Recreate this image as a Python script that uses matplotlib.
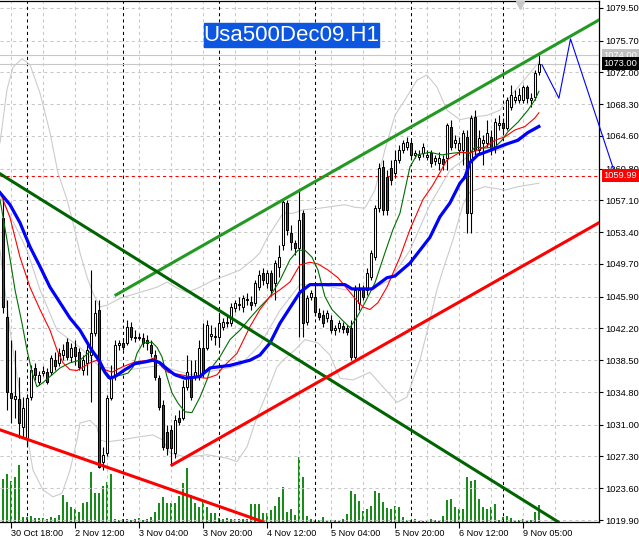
import matplotlib
matplotlib.use("Agg")
import matplotlib.pyplot as plt
from matplotlib import transforms
from matplotlib.patches import Rectangle

plt.rcParams['font.family'] = ['Liberation Sans', 'DejaVu Sans']

# ---- candle data (H1 bars, oldest first) ----
opens = [1055.1, 1043.5, 1034.7, 1034.0, 1034.0, 1030.7, 1029.4, 1034.2, 1037.6, 1036.0,
         1037.0, 1037.1, 1037.1, 1038.5, 1038.2, 1039.1, 1040.6, 1038.9, 1040.0, 1039.5,
         1037.4, 1038.2, 1039.1, 1041.7, 1044.3, 1026.6, 1027.7, 1034.1, 1036.8, 1040.3,
         1040.5, 1040.5, 1042.4, 1041.2, 1041.2, 1041.1, 1040.9, 1040.3, 1039.1, 1036.4,
         1033.3, 1030.2, 1030.4, 1027.7, 1031.8, 1031.8, 1035.4, 1036.4, 1036.5, 1036.5,
         1039.9, 1039.9, 1041.3, 1041.2, 1041.2, 1042.4, 1042.8, 1042.8, 1044.6, 1044.9,
         1044.7, 1045.5, 1045.3, 1045.2, 1047.0, 1048.6, 1047.5, 1048.6, 1047.5, 1049.4,
         1051.9, 1056.8, 1053.3, 1052.1, 1051.6, 1055.6, 1042.9, 1045.9, 1045.9, 1044.0,
         1043.8, 1043.4, 1043.2, 1042.0, 1042.2, 1042.5, 1042.2, 1042.2, 1038.9, 1045.2,
         1046.7, 1046.7, 1048.2, 1050.5, 1056.2, 1061.0, 1059.8, 1060.9, 1060.3, 1061.8,
         1063.0, 1063.3, 1063.8, 1062.4, 1062.2, 1062.6, 1062.2, 1062.6, 1061.7, 1061.5,
         1061.9, 1062.0, 1065.6, 1063.8, 1063.0, 1063.0, 1064.5, 1055.6, 1066.8, 1063.0,
         1063.8, 1063.8, 1064.5, 1063.3, 1065.9, 1066.1, 1065.5, 1068.0, 1068.8, 1068.8,
         1068.8, 1070.3, 1068.8, 1069.1, 1072.0]
closes = [1044.7, 1034.8, 1034.1, 1034.3, 1031.2, 1032.9, 1034.1, 1037.4, 1036.8, 1036.8,
          1037.2, 1036.0, 1038.8, 1037.8, 1039.3, 1039.7, 1038.9, 1039.9, 1039.0, 1037.7,
          1038.5, 1039.7, 1041.7, 1044.0, 1026.1, 1027.5, 1034.1, 1036.4, 1040.3, 1040.5,
          1040.0, 1042.4, 1041.2, 1041.1, 1041.1, 1040.5, 1040.5, 1039.3, 1036.5, 1033.1,
          1028.4, 1028.3, 1028.3, 1031.5, 1031.3, 1035.4, 1037.1, 1034.2, 1037.1, 1039.9,
          1037.0, 1042.6, 1041.5, 1041.3, 1042.8, 1042.9, 1042.9, 1044.7, 1045.2, 1045.0,
          1045.7, 1045.6, 1044.9, 1047.5, 1048.4, 1047.8, 1048.6, 1046.7, 1049.8, 1050.5,
          1056.9, 1053.7, 1052.3, 1051.6, 1054.8, 1042.8, 1045.7, 1046.3, 1044.1, 1043.5,
          1042.8, 1044.0, 1042.0, 1042.2, 1042.8, 1042.1, 1041.8, 1038.9, 1046.7, 1046.7,
          1045.9, 1048.6, 1051.0, 1056.2, 1060.9, 1056.0, 1056.0, 1059.5, 1061.8, 1063.0,
          1063.8, 1063.9, 1062.4, 1062.6, 1062.4, 1063.3, 1062.4, 1061.5, 1062.0, 1062.0,
          1061.3, 1065.9, 1063.3, 1064.1, 1063.8, 1064.9, 1055.6, 1066.7, 1063.0, 1064.4,
          1064.1, 1064.9, 1063.2, 1066.2, 1066.1, 1065.5, 1068.8, 1069.4, 1069.1, 1069.4,
          1070.3, 1069.0, 1069.0, 1071.9, 1073.0]
highs = [1057.7, 1045.5, 1040.9, 1039.7, 1036.5, 1034.2, 1034.5, 1037.9, 1038.2, 1037.2,
         1037.8, 1037.6, 1039.1, 1039.4, 1039.9, 1040.4, 1041.1, 1040.5, 1040.9, 1039.9,
         1039.1, 1040.3, 1049.0, 1045.5, 1045.5, 1028.4, 1034.5, 1037.9, 1040.9, 1040.9,
         1041.1, 1043.2, 1043.0, 1042.0, 1041.7, 1041.7, 1041.4, 1040.9, 1039.7, 1036.8,
         1033.9, 1031.0, 1031.0, 1032.1, 1032.7, 1036.2, 1039.1, 1038.5, 1038.5, 1040.9,
         1042.8, 1043.2, 1042.6, 1042.4, 1044.0, 1043.4, 1043.8, 1045.2, 1045.5, 1045.8,
         1046.1, 1046.3, 1046.0, 1047.8, 1049.0, 1049.2, 1049.0, 1049.0, 1050.2, 1051.9,
         1057.1, 1057.1, 1054.2, 1052.5, 1058.3, 1056.0, 1046.1, 1046.7, 1047.3, 1044.6,
         1044.3, 1044.3, 1043.8, 1042.6, 1043.2, 1042.9, 1042.6, 1043.2, 1047.3, 1047.5,
         1047.3, 1049.2, 1051.3, 1056.6, 1061.5, 1061.8, 1060.6, 1061.8, 1063.0, 1063.6,
         1064.1, 1064.5, 1064.1, 1063.0, 1063.0, 1063.8, 1063.0, 1063.0, 1062.4, 1062.7,
         1062.4, 1066.1, 1066.5, 1064.7, 1064.5, 1065.3, 1065.3, 1067.0, 1067.6, 1065.3,
         1064.7, 1066.5, 1065.3, 1066.7, 1067.0, 1066.7, 1069.1, 1070.5, 1070.0, 1070.2,
         1070.5, 1070.5, 1069.6, 1072.3, 1074.0]
lows = [1044.0, 1032.7, 1031.2, 1031.8, 1029.4, 1029.4, 1028.6, 1033.9, 1036.2, 1035.6,
        1036.7, 1035.7, 1036.8, 1037.4, 1037.8, 1038.5, 1038.5, 1038.3, 1037.9, 1037.4,
        1036.8, 1036.8, 1033.6, 1041.3, 1025.9, 1025.7, 1027.3, 1033.9, 1036.2, 1039.7,
        1039.7, 1040.3, 1040.9, 1040.6, 1040.9, 1040.0, 1039.7, 1038.9, 1036.2, 1032.7,
        1028.0, 1027.5, 1026.3, 1027.1, 1031.0, 1031.5, 1035.0, 1033.9, 1036.2, 1036.2,
        1036.5, 1039.7, 1040.9, 1040.3, 1040.0, 1042.0, 1042.4, 1042.5, 1044.1, 1044.3,
        1044.1, 1044.9, 1044.3, 1044.8, 1046.7, 1047.3, 1046.9, 1046.0, 1045.5, 1048.2,
        1051.3, 1053.1, 1051.3, 1050.7, 1041.2, 1041.2, 1042.6, 1045.5, 1043.7, 1043.2,
        1042.4, 1042.9, 1041.7, 1041.4, 1041.8, 1041.7, 1041.4, 1038.5, 1038.5, 1044.3,
        1045.5, 1046.1, 1047.8, 1050.2, 1055.7, 1055.4, 1055.4, 1058.9, 1059.7, 1061.5,
        1062.6, 1063.0, 1061.8, 1062.0, 1061.8, 1062.2, 1061.8, 1061.0, 1061.2, 1060.6,
        1060.6, 1060.6, 1063.0, 1063.2, 1062.4, 1061.2, 1053.3, 1053.3, 1062.4, 1062.6,
        1061.2, 1063.3, 1062.4, 1062.6, 1065.3, 1064.7, 1065.3, 1067.6, 1068.4, 1068.4,
        1068.4, 1068.4, 1068.0, 1068.8, 1071.7]
volumes = [43, 48, 41, 45, 57, 5, 5, 6, 4, 4, 4, 3, 5, 4, 7, 27, 20, 15, 13, 10,
           19, 20, 50, 29, 29, 36, 40, 48, 3, 2, 3, 3, 2, 3, 4, 2, 3, 5, 10, 19,
           25, 19, 19, 19, 26, 39, 54, 27, 19, 15, 22, 15, 9, 9, 4, 3, 4, 3, 3, 3,
           3, 3, 18, 18, 18, 9, 9, 12, 16, 25, 35, 10, 13, 7, 65, 45, 6, 3, 1, 2,
           5, 2, 2, 2, 2, 3, 8, 31, 28, 21, 11, 13, 16, 31, 29, 20, 14, 13, 16, 15,
           5, 2, 2, 3, 1, 1, 1, 3, 2, 1, 6, 22, 23, 15, 13, 13, 45, 41, 42, 23,
           15, 13, 15, 18, 2, 5, 6, 4, 2, 2, 3, 2, 2, 10, 17]

# ---- indicator lines (bar position, price) ----
ma_fast_x = [-0.75, 1, 3, 4.75, 6, 7.25, 8.5, 10, 11.75, 14.25, 16.75, 19.25, 21.75, 23.5, 24.75,
             26.25, 28, 29.75, 31.25, 32.5, 33.5, 35, 37.25, 38.5, 39.75, 41, 42.25, 43.75, 45.5,
             47.25, 49.25, 51, 51.75, 54.25, 56.75, 59.25, 61.75, 64.25, 66.75, 69.25, 71.75,
             73.75, 75.5, 77.25, 78.75, 80.5, 82.25, 84.75, 86.75, 88.5, 90.5, 93, 95.5, 97.5,
             99.25, 101.75, 103.5, 106.75, 109.75, 112.5, 114.75, 116.75, 118, 120.5, 123,
             124.75, 126.25, 128.75, 131.25, 133, 134]
ma_fast_y = [1057.2, 1052.5, 1046.7, 1042.8, 1039.7, 1037.1, 1035.4, 1035.9, 1036.6, 1037.6,
             1038.2, 1038.5, 1039.5, 1039.1, 1037.4, 1036.4, 1036.6, 1036.8, 1037.0, 1037.7,
             1039.3, 1040.5, 1040.6, 1040.0, 1038.9, 1036.6, 1034.7, 1033.5, 1032.5, 1032.4,
             1034.2, 1036.2, 1037.4, 1038.9, 1040.9, 1042.0, 1043.4, 1044.7, 1045.9, 1047.8,
             1050.2, 1051.3, 1051.3, 1050.5, 1049.0, 1045.9, 1044.4, 1043.2, 1042.3, 1043.5,
             1045.2, 1047.5, 1051.0, 1053.7, 1055.6, 1061.0, 1062.4, 1062.7, 1062.4, 1062.6,
             1062.7, 1062.6, 1063.3, 1063.2, 1063.3, 1064.1, 1065.1, 1066.2, 1067.6, 1068.8,
             1069.8]
ma_mid_x = [-0.75, 1.75, 4.25, 6.75, 9.25, 11.75, 13.5, 15, 16.75, 18.5, 20, 21.75, 23.5, 25.5,
            27.25, 29.75, 33, 36.25, 38, 39.75, 41.25, 43.5, 46.75, 51, 53.5, 55, 58.5, 61.75,
            64.25, 66.75, 69.25, 71.75, 74.25, 76.75, 78.75, 81.25, 83.75, 86.25, 88, 90, 91.75,
            93.75, 96, 99.25, 101.75, 105, 107.5, 111, 114.25, 116.75, 120.5, 123, 125.5, 128,
            130.5, 133, 134]
ma_mid_y = [1058.1, 1055.1, 1050.5, 1047.0, 1044.4, 1042.0, 1039.7, 1038.2, 1037.4, 1037.3,
            1037.7, 1038.2, 1038.5, 1037.4, 1037.1, 1037.7, 1038.3, 1038.5, 1038.8, 1037.7,
            1037.1, 1036.9, 1036.6, 1036.4, 1036.8, 1037.7, 1039.3, 1042.4, 1044.4, 1045.9,
            1046.7, 1047.6, 1049.6, 1049.9, 1049.7, 1049.0, 1048.1, 1046.7, 1045.7, 1044.7,
            1044.4, 1045.2, 1047.0, 1050.5, 1053.7, 1057.2, 1058.9, 1061.8, 1062.7, 1062.6,
            1063.3, 1064.1, 1064.5, 1065.3, 1065.7, 1066.7, 1067.3]
ma_slow_x = [-0.75, 1.75, 4.25, 6.75, 9.25, 11.75, 14.25, 16.75, 19.25, 21.75, 24.25, 25.5, 26.75,
             28, 30.5, 33, 35.5, 37.5, 39.25, 41.25, 43, 45.5, 49.25, 51.75, 56.75, 61.75, 64.25,
             66.75, 69.25, 71.75, 74.25, 76.75, 85.5, 87.25, 92.25, 96, 98, 101.75, 104.25,
             106.75, 109.25, 111.75, 114.25, 115.5, 116.75, 118.75, 122.25, 125.5, 128.75,
             131.25, 134]
ma_slow_y = [1058.0, 1056.6, 1054.5, 1051.7, 1049.4, 1047.0, 1045.2, 1043.4, 1042.0, 1040.0,
             1038.3, 1037.1, 1036.4, 1036.6, 1037.4, 1038.1, 1038.3, 1038.5, 1038.2, 1037.4,
             1036.8, 1036.4, 1036.6, 1037.6, 1037.9, 1038.5, 1039.1, 1040.5, 1042.8, 1044.6,
             1046.4, 1047.3, 1047.3, 1046.8, 1046.8, 1048.1, 1048.3, 1049.8, 1051.3, 1052.8,
             1055.2, 1056.8, 1059.1, 1059.8, 1061.5, 1062.4, 1063.0, 1063.6, 1064.1, 1065.0,
             1065.7]
band_up_x = [-0.75, 1, 2.5, 4.75, 6.75, 9.25, 11.75, 13.75, 16, 17.5, 19.25, 21, 22.5, 24.25, 26,
             29.25, 34.25, 38.5, 41, 43.5, 46, 49.25, 52.5, 56, 59.25, 62.5, 64.25, 66, 68.5, 70,
             72.5, 75, 79.25, 85.5, 88, 90.5, 93, 95.5, 98, 100.5, 103.5, 106, 108.5, 111,
             114.25, 117.5, 121, 124.25, 127.5, 131, 134]
band_up_y = [1063.8, 1070.0, 1072.6, 1073.6, 1072.9, 1069.6, 1065.0, 1060.3, 1057.2, 1054.5,
             1051.0, 1048.2, 1046.3, 1044.7, 1044.9, 1045.7, 1046.4, 1047.0, 1047.6, 1046.9,
             1046.4, 1047.0, 1047.8, 1048.4, 1049.0, 1050.2, 1051.0, 1052.7, 1054.5, 1055.6,
             1055.6, 1056.0, 1056.2, 1056.6, 1056.3, 1056.2, 1058.3, 1063.0, 1067.0, 1068.8,
             1071.1, 1071.7, 1070.3, 1067.6, 1066.5, 1066.8, 1067.0, 1067.6, 1069.6, 1071.5,
             1073.2]
band_mid_x = [-0.75, 3, 6, 9.25, 13.5, 19.25, 24.25, 31.75, 39.25, 46.75, 54.25, 59.25, 64.25,
              69.25, 74.25, 79.25, 85.5, 91.75, 96.75, 101.75, 106.75, 111.75, 116.75, 124.25, 134]
band_mid_y = [1057.6, 1054.2, 1051.3, 1046.7, 1042.0, 1040.0, 1037.7, 1037.4, 1037.9, 1036.8,
              1037.4, 1037.9, 1040.3, 1044.3, 1047.3, 1047.3, 1046.7, 1046.7, 1047.8, 1051.3,
              1056.6, 1060.6, 1062.4, 1063.0, 1065.9]
band_lo_x = [-0.75, 1.75, 4.25, 6, 7.5, 10, 12.5, 14.75, 16.75, 18.5, 19.25, 21.75, 23.5, 24.25,
             26, 29.25, 34.25, 37.5, 40, 41.75, 46, 51, 56, 58.5, 61, 63.5, 66, 68.5, 70, 73, 75.5,
             78.75, 81.75, 84.25, 87.5, 91.75, 95, 98.5, 101, 102.5, 104.25, 106.75, 108.5, 110,
             112.5, 115, 116.75, 120.5, 125.5, 128.75, 134]
band_lo_y = [1051.3, 1042.0, 1034.5, 1029.8, 1025.7, 1023.4, 1022.6, 1023.0, 1025.7, 1029.2,
             1031.2, 1031.5, 1030.7, 1029.2, 1029.0, 1029.2, 1029.6, 1029.8, 1029.2, 1027.7,
             1027.2, 1027.5, 1027.1, 1026.7, 1028.4, 1031.9, 1034.7, 1037.7, 1038.5, 1039.7,
             1040.9, 1040.5, 1039.1, 1036.4, 1036.2, 1037.1, 1035.4, 1033.6, 1034.2, 1036.2,
             1038.5, 1043.2, 1046.7, 1049.0, 1052.5, 1056.6, 1058.1, 1058.7, 1058.3, 1058.7,
             1059.1]

# ---- trend lines / objects (bar position, price) ----
channel_up = ([28.25, 149.0], [1046.1, 1078.1])
line_down_green = ([-0.75, 138.75], [1060.2, 1019.7])
line_down_red = ([-0.75, 65.0], [1030.4, 1019.7])
line_up_red = ([42.25, 149.0], [1026.3, 1054.5])
forecast = ([134.75, 139.0, 141.9, 152.75], [1072.9, 1069.0, 1075.9, 1060.6])

price_ticks = [1079.50, 1075.70, 1072.00, 1068.30, 1064.60, 1060.80, 1057.10, 1053.40, 1049.70,
               1045.90, 1042.20, 1038.50, 1034.80, 1031.00, 1027.30, 1023.60, 1019.90]
time_pos = [2, 18, 34, 50, 66, 82, 98, 114, 130]
time_labels = ['30 Oct 18:00', '2 Nov 12:00', '3 Nov 04:00', '3 Nov 20:00', '4 Nov 12:00',
               '5 Nov 04:00', '5 Nov 20:00', '6 Nov 12:00', '9 Nov 05:00']
day_breaks = [6, 30, 54, 78, 102, 125]
ask_price = 1074.00
bid_price = 1073.00
alert_price = 1059.99

# ---- figure ----
fig = plt.figure(figsize=(6.39, 5.39), dpi=100)
rect = [0, 17 / 539, 598.5 / 639, 521 / 539]
xlim = (-0.75, 148.9)
ylim = (1019.67, 1080.31)

axv = fig.add_axes(rect)
n = len(closes)
xs = list(range(n))
axv.vlines(xs, 0, volumes, color='#008000', lw=1.3)
axv.set_xlim(*xlim)
axv.set_ylim(0, 521)
axv.axis('off')

ax = fig.add_axes(rect)
ax.set_facecolor('none')
ax.spines['left'].set_visible(False)
for s in ['top', 'right', 'bottom']:
    ax.spines[s].set_linewidth(0.9)

ax.set_yticks(price_ticks)
ax.set_yticklabels(['%.2f' % p for p in price_ticks])
ax.yaxis.tick_right()
ax.tick_params(axis='y', length=3, width=0.8, pad=2, labelsize=6.7)
ax.set_xticks(time_pos)
ax.set_xticklabels(time_labels, ha='left')
ax.set_xticks([p + 8 for p in time_pos], minor=True)
ax.tick_params(axis='x', which='major', length=4, width=0.8, pad=1, labelsize=6.6)
ax.tick_params(axis='x', which='minor', length=0)
ax.grid(True, which='both', color='#c8c8c8', lw=0.75, ls=(0, (3, 3)))
ax.set_axisbelow(True)

for d in day_breaks:
    ax.axvline(d, color='black', lw=0.75, ls=(0, (3, 3)), zorder=1)

ax.axhline(ask_price, color='#c8c8c8', lw=0.8, zorder=1)
ax.axhline(bid_price, color='#c8c8c8', lw=0.8, zorder=1)
ax.axhline(alert_price, color='#ff0000', lw=0.75, ls=(0, (3, 3)), zorder=1)

# bollinger style envelope
for bx, by in [(band_up_x, band_up_y), (band_mid_x, band_mid_y), (band_lo_x, band_lo_y)]:
    ax.plot(bx, by, color='#cccccc', lw=0.8, zorder=2)

# candles
ax.vlines(xs, lows, highs, color='black', lw=0.8, zorder=3)
body_h = [c - o for o, c in zip(opens, closes)]
fills = ['white' if c >= o else '#f00000' for o, c in zip(opens, closes)]
ax.bar(xs, body_h, bottom=opens, width=0.5, color=fills, edgecolor='black', lw=0.75, zorder=4)

# moving averages
ax.plot(ma_fast_x, ma_fast_y, color='#006e00', lw=0.8, zorder=5)
ax.plot(ma_mid_x, ma_mid_y, color='#ff0000', lw=0.8, zorder=5)
ax.plot(ma_slow_x, ma_slow_y, color='#0000ff', lw=2.3, zorder=5)

# trend lines
ax.plot(*channel_up, color='#229922', lw=2.2, zorder=6)
ax.plot(*line_down_green, color='#006400', lw=2.2, zorder=6)
ax.plot(*line_down_red, color='#ff0000', lw=2.2, zorder=6)
ax.plot(*line_up_red, color='#ff0000', lw=2.2, zorder=6)
ax.plot(*forecast, color='#0000ff', lw=0.8, zorder=6, clip_on=False)

# chart shift marker
ax.plot([129.25], [1079.8], marker='v', color='#c8c8c8', ms=6, zorder=6, clip_on=False)

ax.set_xlim(*xlim)
ax.set_ylim(*ylim)

# price boxes on the scale
tr = transforms.blended_transform_factory(fig.transFigure, ax.transData)
for price, fc in [(ask_price, '#c0c0c0'), (bid_price, 'black'), (alert_price, '#ff0000')]:
    fig.text(603.5 / 639, price, '%.2f' % price, transform=tr, ha='left', va='center',
             fontsize=6.7, color='white',
             bbox=dict(boxstyle='square,pad=0.2', fc=fc, ec='none'))

# symbol caption
fig.patches.append(Rectangle((204 / 639, 1 - 47 / 539), 175 / 639, 24 / 539,
                             transform=fig.transFigure, color='#0d56e0', zorder=5))
fig.text(291.5 / 639, 1 - 35.5 / 539, 'Usa500Dec09.H1', ha='center', va='center',
         fontsize=16, color='white', zorder=6)

fig.savefig('out.png', dpi=100, facecolor='white')
